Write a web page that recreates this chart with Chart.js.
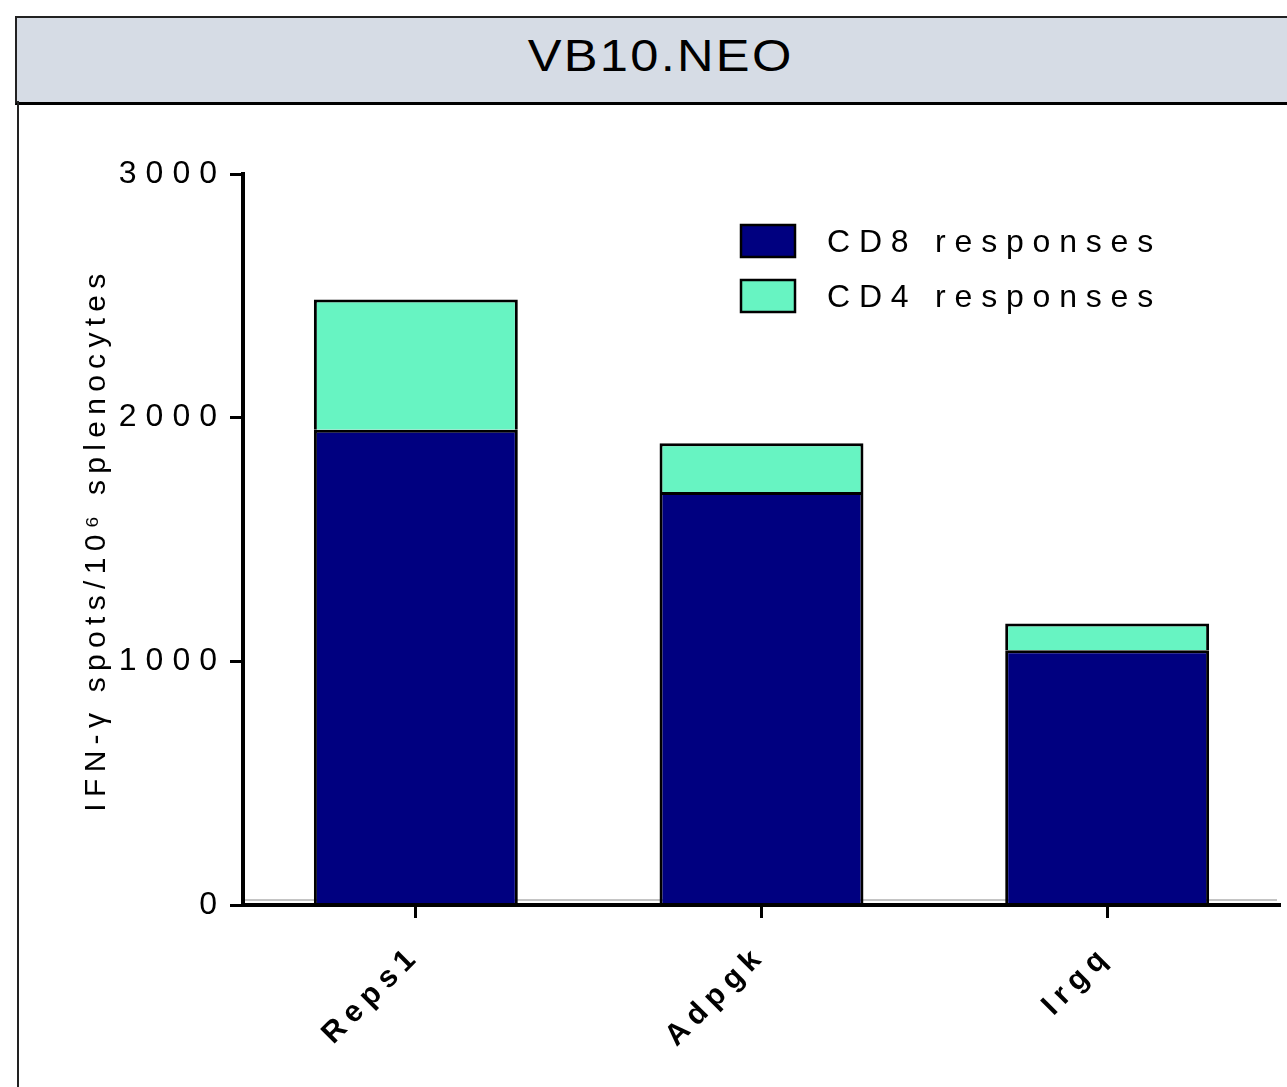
<!DOCTYPE html>
<html>
<head>
<meta charset="utf-8">
<title>VB10.NEO</title>
<script src="https://cdn.jsdelivr.net/npm/chart.js@4.4.0/dist/chart.umd.min.js"></script>
<style>
  body { margin: 0; width: 1287px; height: 1087px; overflow: hidden; position: relative; background: #fff;
         font-family: 'Liberation Sans', Arial, sans-serif; }
  #stat-neo { position: absolute; left: 0; top: 0; }
  .panel-head { position: absolute; left: 15px; top: 16px; width: 1287px; height: 84px; background: #d6dce5;
                border-top: 2px solid #222; border-left: 2px solid #222; border-bottom: 3px solid #000; }
  .panel-head span { position: absolute; left: 0; right: 0; top: 0; line-height: 76px; text-align: center;
                     font-size: 44px; color: #000; }
  .panel-head span b { font-weight: normal; display: inline-block; transform: scaleX(1.15); letter-spacing: 2px; }
  .panel-side { position: absolute; left: 17px; top: 101px; width: 2px; height: 990px; background: #222; }
</style>
</head>
<body>
<div class="panel-head"><span><b>VB10.NEO</b></span></div>
<div class="panel-side"></div>
<canvas id="stat-neo" width="1287" height="1087"></canvas>

<script>
// values (IFN-g spots / 10^6 splenocytes)
const categories = ['Reps1', 'Adpgk', 'Irgq'];
const cd8Values = [1950, 1695, 1045];
const cd4Values = [535, 200, 110];
const seriesLabels = ['CD8 responses', 'CD4 responses'];
const seriesColors = ['#000080', '#67f4c2'];
const yTickValues = [0, 1000, 2000, 3000];
const yTitle = 'IFN-\u03b3 spots/10\u2076 splenocytes';

const FONT = "'Liberation Sans', Arial, sans-serif";

// GraphPad style: spaced-out lettering, boxed legend, thin zero line
const prismPlugin = {
    id: 'prism',
    beforeDraw(chart) {
        chart.ctx.letterSpacing = '9px';
        const y = chart.scales.y;
        if (!y._spacedTitle) {
            const orig = y.drawTitle;
            y.drawTitle = function () {
                this.ctx.save();
                this.ctx.letterSpacing = '6.3px';
                orig.call(this);
                this.ctx.restore();
            };
            y._spacedTitle = true;
        }
        const x = chart.scales.x;
        if (!x._spacedLabels) {
            const origLabels = x.drawLabels;
            x.drawLabels = function (area) {
                this.ctx.save();
                this.ctx.letterSpacing = '7px';
                origLabels.call(this, area);
                this.ctx.restore();
            };
            x._spacedLabels = true;
        }
    },
    beforeDatasetsDraw(chart) {
        const {ctx, chartArea, scales} = chart;
        const zeroY = scales.y.getPixelForValue(0) - 5;
        ctx.save();
        ctx.strokeStyle = '#8a8a8a';
        ctx.lineWidth = 1.2;
        ctx.beginPath();
        ctx.moveTo(chartArea.left, zeroY);
        ctx.lineTo(chartArea.right - 3, zeroY);
        ctx.stroke();
        ctx.restore();
    },
    afterDraw(chart) {
        const {ctx, chartArea} = chart;
        const boxX = chartArea.right - 539;
        const boxY = chartArea.top + 51;
        ctx.save();
        ctx.letterSpacing = '8.8px';
        ctx.font = '32px ' + FONT;
        ctx.textBaseline = 'middle';
        ctx.textAlign = 'left';
        chart.data.datasets.forEach(function (ds, i) {
            const y = boxY + i * 55;
            ctx.fillStyle = ds.backgroundColor;
            ctx.fillRect(boxX, y, 54, 32);
            ctx.lineWidth = 2.5;
            ctx.strokeStyle = '#000';
            ctx.strokeRect(boxX, y, 54, 32);
            ctx.fillStyle = '#000';
            ctx.fillText(ds.label, boxX + 86, y + 18);
        });
        ctx.restore();
    }
};

const neoCtx = document.getElementById('stat-neo').getContext('2d');
const neoChart = new Chart(neoCtx, {
    type: 'bar',
    data: {
        labels: categories,
        datasets: [{
            label: seriesLabels[0],
            data: cd8Values,
            backgroundColor: seriesColors[0],
            borderColor: '#000',
            borderWidth: 3
        }, {
            label: seriesLabels[1],
            data: cd4Values,
            backgroundColor: seriesColors[1],
            borderColor: '#000',
            borderWidth: 3
        }]
    },
    options: {
        responsive: false,
        animation: false,
        layout: { padding: { left: 79, top: 174, right: 7, bottom: 0 } },
        datasets: { bar: { categoryPercentage: 1, barPercentage: 0.59 } },
        plugins: {
            legend: { display: false },
            tooltip: { enabled: false }
        },
        scales: {
            x: {
                stacked: true,
                afterFit(scale) { scale.height = 182; },
                grid: { offset: false, drawOnChartArea: false, tickLength: 13, tickWidth: 3, tickColor: '#000' },
                border: { color: '#000', width: 4, z: 1 },
                ticks: {
                    color: '#000',
                    font: { family: FONT, size: 30, weight: 'bold' },
                    minRotation: 45,
                    maxRotation: 45,
                    padding: 20
                }
            },
            y: {
                stacked: true,
                min: 0,
                max: 3000,
                afterFit(scale) { scale.width = 164; },
                afterBuildTicks(scale) { scale.ticks = yTickValues.map(v => ({ value: v })); },
                grid: { drawOnChartArea: false, tickLength: 13, tickWidth: 3, tickColor: '#000' },
                border: { color: '#000', width: 4, z: 1 },
                ticks: {
                    color: '#000',
                    font: { family: FONT, size: 32 },
                    padding: 4,
                    callback: (value) => String(value)
                },
                title: {
                    display: true,
                    text: yTitle,
                    color: '#000',
                    font: { family: FONT, size: 30 },
                    padding: 0
                }
            }
        }
    },
    plugins: [prismPlugin]
});
</script>
</body>
</html>
